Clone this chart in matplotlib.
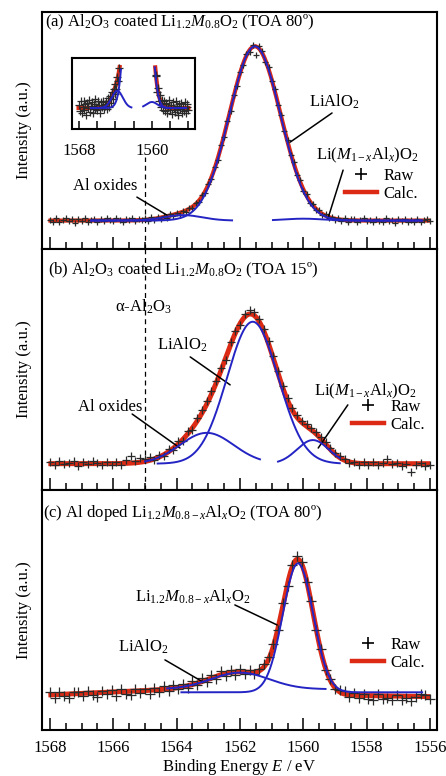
import numpy as np
import matplotlib
matplotlib.use('Agg')  # no display
import matplotlib.pyplot as plt
from matplotlib.lines import Line2D

plt.rcParams['font.family'] = ['Liberation Serif', 'DejaVu Serif']
plt.rcParams['mathtext.fontset'] = 'custom'
plt.rcParams['mathtext.rm'] = 'Liberation Serif'
plt.rcParams['mathtext.it'] = 'Liberation Serif:italic'
plt.rcParams['mathtext.bf'] = 'Liberation Serif:bold'
plt.rcParams['font.size'] = 12

# ---- data ----
# raw XPS points, binding energy runs 1568 -> 1556 eV
energy_a = np.linspace(1568.0, 1556.0, 121)
raw_a = [12.4, 11.6, 12.9, 11.3, 12.2, 13.0, 11.8, 12.5, 11.1, 12.7,
         12.0, 13.1, 11.5, 12.3, 12.8, 11.4, 12.6, 11.9, 13.2, 12.1,
         11.7, 12.9, 12.4, 11.3, 12.8, 12.2, 13.0, 11.9, 12.6, 12.3,
         12.9, 11.9, 13.3, 12.2, 13.6, 12.7, 14.1, 13.2, 14.6, 13.9,
         15.2, 14.5, 16.1, 15.6, 17.3, 17.1, 19.3, 19.8, 22.6, 23.8,
         27.6, 29.7, 34.8, 37.6, 43.7, 47.4, 54.2, 58.1, 65.0, 68.6,
         74.9, 77.5, 82.3, 83.1, 86.0, 82.0, 85.7, 83.4, 78.9, 76.6,
         70.8, 67.4, 60.6, 56.7, 49.8, 46.1, 39.7, 36.7, 31.1, 29.0,
         24.5, 23.2, 19.6, 19.1, 16.3, 16.4, 14.2, 14.7, 12.9, 13.7,
         12.2, 13.1, 11.8, 12.9, 11.6, 12.7, 12.5, 11.4, 12.2, 13.1,
         11.7, 12.4, 11.2, 12.8, 12.0, 11.5, 12.9, 11.8, 12.3, 11.1,
         12.6, 11.9, 12.7, 11.3, 12.2, 11.6, 12.8, 11.4, 12.1, 12.5,
         11.8]

energy_bc = np.linspace(1568.0, 1556.0, 81)
raw_b = [11.6, 10.3, 11.9, 10.6, 11.3, 12.0, 10.1, 11.5, 10.7, 12.1,
         11.0, 10.2, 11.8, 10.5, 11.4, 10.4, 12.6, 13.9, 12.2, 13.4,
         12.9, 13.6, 12.4, 14.6, 14.0, 17.0, 16.6, 20.2, 20.3, 24.5,
         25.0, 30.0, 33.0, 36.9, 41.0, 45.3, 50.6, 54.0, 61.2, 65.9,
         68.3, 73.0, 74.8, 74.0, 70.8, 66.9, 61.6, 55.7, 49.4, 43.3,
         38.0, 33.9, 30.9, 28.6, 27.3, 25.6, 24.2, 21.9, 19.8, 17.5,
         15.4, 13.9, 12.9, 11.1, 11.8, 10.5, 11.4, 10.2, 11.6, 10.4,
         11.2, 12.8, 10.6, 11.3, 10.0, 10.8, 7.4, 10.4, 11.2, 9.8, 10.5]
raw_c = [15.8, 13.4, 15.9, 14.1, 13.2, 16.0, 15.7, 14.0, 16.3, 14.5,
         13.9, 16.4, 15.0, 16.6, 14.3, 16.9, 15.2, 14.6, 17.1, 15.5,
         16.9, 15.0, 17.4, 16.0, 18.3, 16.2, 18.6, 17.0, 19.2, 17.6,
         20.3, 18.6, 21.5, 20.1, 22.9, 21.2, 24.4, 22.5, 25.1, 23.0,
         25.3, 23.4, 25.0, 23.2, 25.6, 27.3, 30.2, 35.9, 41.5, 52.8,
         60.0, 68.8, 72.4, 69.9, 61.5, 53.9, 41.6, 33.8, 25.0, 21.4,
         17.0, 16.8, 16.1, 13.6, 15.5, 13.2, 15.1, 13.0, 12.6, 14.8,
         12.9, 13.5, 12.4, 14.6, 12.7, 13.3, 12.2, 13.8, 15.0, 14.4, 13.1]

# fitted components: centre (eV), height, sigma (eV), plotted span (eV), own baseline
centre_a = [1561.53, 1563.8, 1560.0]          # LiAlO2, Al oxides, Li(M1-xAlx)O2
height_a = [73.5, 2.3, 0.8]
sigma_a = [0.81, 0.6, 0.6]
span_a = [(1566.7, 1556.25), (1566.7, 1562.25), (1560.96, 1556.25)]
base_a = [12.0, 12.0, 12.0]
bg_energy_a = [1568.05, 1556.0]
bg_a = [12.0, 12.0]

centre_b = [1561.6, 1563.05, 1559.7]
height_b = [58.9, 12.8, 9.8]
sigma_b = [0.81, 0.85, 0.5]
span_b = [(1564.6, 1558.85), (1565.0, 1561.37), (1560.8, 1558.85)]
base_b = [10.9, 10.9, 10.9]
bg_energy_b = [1568.05, 1556.0]
bg_b = [10.9, 10.9]

centre_c = [1560.17, 1562.0]                  # Li1.2M0.8-xAlxO2, LiAlO2
height_c = [53.7, 6.9]
sigma_c = [0.48, 0.92]
span_c = [(1563.85, 1556.25), (1564.3, 1559.3)]
base_c = [15.7, 17.0]
bg_energy_c = [1568.05, 1564.3, 1562.5, 1560.2, 1558.8, 1556.0]
bg_c = [14.6, 16.8, 17.5, 16.5, 14.5, 13.9]

alpha_al2o3_energy = 1565.0

RED = '#dc2a14'
BLUE = '#2424c4'
RAW = '#2a2a2a'


def gauss(e, centre, height, sigma):
    return height * np.exp(-(e - centre) ** 2 / (2 * sigma ** 2))


def calc_curve(e, centres, heights, sigmas, bg_e, bg_v):
    y = np.interp(e, bg_e[::-1], bg_v[::-1])
    for c, h, s in zip(centres, heights, sigmas):
        y = y + gauss(e, c, h, s)
    return y


def draw_panel(ax, energy, raw, centres, heights, sigmas, spans, bases, bg_e, bg_v,
               red_lw=3.6, ms=5.5):
    e_fine = np.linspace(1568.05, 1556.0, 800)
    ax.plot(e_fine, calc_curve(e_fine, centres, heights, sigmas, bg_e, bg_v),
            color=RED, lw=red_lw, zorder=2, solid_capstyle='butt')
    ax.plot(energy, raw, ls='none', marker='+', ms=ms, mew=0.9, color=RAW, zorder=3)
    for c, h, s, sp, b in zip(centres, heights, sigmas, spans, bases):
        e = np.linspace(sp[0], sp[1], 400)
        ax.plot(e, b + gauss(e, c, h, s), color=BLUE, lw=1.4, zorder=4)
    ax.set_xlim(1568.26, 1555.79)
    ax.set_ylim(0, 100)
    ax.set_xticks(np.arange(1556, 1569, 2))
    ax.set_xticks(np.arange(1556, 1568.1, 0.5), minor=True)
    ax.tick_params(axis='x', which='major', direction='in', length=9, width=1.1,
                   top=False, labelsize=12, pad=7)
    ax.tick_params(axis='x', which='minor', direction='in', length=5, width=1.1, top=False)
    ax.tick_params(axis='y', left=False, labelleft=False)
    for sp in ax.spines.values():
        sp.set_linewidth(1.5)
    ax.set_ylabel('Intensity (a.u.)', fontsize=12)
    ax.yaxis.set_label_coords(-0.025, 0.5)


def add_legend(ax, x, y):
    handles = [Line2D([], [], ls='none', marker='+', ms=9, mew=1.2, color='k'),
               Line2D([], [], color=RED, lw=3.2)]
    ax.legend(handles, ['Raw', 'Calc.'], loc='upper left', bbox_to_anchor=(x, y),
              frameon=False, borderaxespad=0, borderpad=0, handlelength=1.9,
              handletextpad=0.4, labelspacing=0.1, fontsize=12)


def pointer(ax, start, tip):
    ax.annotate('', xy=tip, xytext=start, xycoords='axes fraction',
                textcoords='axes fraction',
                arrowprops=dict(arrowstyle='-', color='k', lw=1.1, shrinkA=0, shrinkB=0))


fig = plt.figure(figsize=(4.46, 7.76), dpi=100)
left, width = 0.0935, 0.8857
ax_a = fig.add_axes([left, 0.6791, width, 0.3054])
ax_b = fig.add_axes([left, 0.3686, width, 0.3106])
ax_c = fig.add_axes([left, 0.0593, width, 0.3093])

# (a)
draw_panel(ax_a, energy_a, raw_a, centre_a, height_a, sigma_a, span_a, base_a,
           bg_energy_a, bg_a, red_lw=3.0, ms=5)
ax_a.tick_params(axis='x', labelbottom=False)
ax_a.text(0.008, 0.958, r'(a) Al$_2$O$_3$ coated Li$_{1.2}M_{0.8}$O$_2$ (TOA 80º)',
          transform=ax_a.transAxes, ha='left', va='center')
ax_a.text(0.740, 0.620, r'LiAlO$_2$', transform=ax_a.transAxes, ha='center', va='center')
pointer(ax_a, (0.735, 0.574), (0.629, 0.451))
ax_a.text(0.824, 0.397, r'Li($M_{1-x}$Al$_x$)O$_2$', transform=ax_a.transAxes,
          ha='center', va='center')
pointer(ax_a, (0.763, 0.333), (0.725, 0.131))
ax_a.text(0.160, 0.266, 'Al oxides', transform=ax_a.transAxes, ha='center', va='center')
pointer(ax_a, (0.241, 0.219), (0.317, 0.143))
add_legend(ax_a, 0.768, 0.342)
ax_a.axvline(alpha_al2o3_energy, ymin=0, ymax=0.388, color='k', lw=0.9, ls=(0, (4, 3)))

# inset of (a): zoom on the weak components
ins = fig.add_axes([72 / 446, 1 - 129 / 776, 123 / 446, 71 / 776])
e_fine = np.linspace(1568.05, 1556.0, 800)
calc_fine = calc_curve(e_fine, centre_a, height_a, sigma_a, bg_energy_a, bg_a)
clip = 17.5
ins.plot(e_fine, np.where(calc_fine < clip, calc_fine, np.nan), color=RED, lw=3.0, zorder=2)
calc_pts = calc_curve(energy_a, centre_a, height_a, sigma_a, bg_energy_a, bg_a)
raw_arr = np.array(raw_a)
ins.plot(energy_a, np.where(calc_pts < clip, raw_arr, np.nan), ls='none', marker='+',
         ms=5.5, mew=0.9, color=RAW, zorder=3)
for c, h, s, sp, b in zip(centre_a, height_a, sigma_a, span_a, base_a):
    e = np.linspace(sp[0], sp[1], 400)
    y = b + gauss(e, c, h, s)
    ins.plot(e, np.where(y < clip, y, np.nan), color=BLUE, lw=1.4, zorder=4)
ins.set_xlim(1568.77, 1555.27)
ins.set_ylim(9.2, 18.67)
ins.set_xticks(np.arange(1556, 1569, 2))
ins.set_xticklabels(['' if t not in (1568, 1560) else str(t) for t in np.arange(1556, 1569, 2)])
ins.tick_params(axis='x', direction='in', length=6, width=1.1, labelsize=12, pad=10)
ins.tick_params(axis='y', left=False, labelleft=False)
for sp in ins.spines.values():
    sp.set_linewidth(1.5)

# (b)
draw_panel(ax_b, energy_bc, raw_b, centre_b, height_b, sigma_b, span_b, base_b,
           bg_energy_b, bg_b)
ax_b.tick_params(axis='x', labelbottom=False)
ax_b.text(0.016, 0.913, r'(b) Al$_2$O$_3$ coated Li$_{1.2}M_{0.8}$O$_2$ (TOA 15º)',
          transform=ax_b.transAxes, ha='left', va='center')
ax_b.text(0.257, 0.759, r'α-Al$_2$O$_3$', transform=ax_b.transAxes, ha='center', va='center')
ax_b.text(0.355, 0.602, r'LiAlO$_2$', transform=ax_b.transAxes, ha='center', va='center')
pointer(ax_b, (0.376, 0.552), (0.477, 0.436))
ax_b.text(0.173, 0.344, 'Al oxides', transform=ax_b.transAxes, ha='center', va='center')
pointer(ax_b, (0.229, 0.315), (0.350, 0.174))
ax_b.text(0.818, 0.411, r'Li($M_{1-x}$Al$_x$)O$_2$', transform=ax_b.transAxes,
          ha='center', va='center')
pointer(ax_b, (0.775, 0.353), (0.700, 0.174))
add_legend(ax_b, 0.786, 0.378)
ax_b.axvline(alpha_al2o3_energy, color='k', lw=0.9, ls=(0, (4, 3)))

# (c)
draw_panel(ax_c, energy_bc, raw_c, centre_c, height_c, sigma_c, span_c, base_c,
           bg_energy_c, bg_c, ms=6.5)
ax_c.text(0.003, 0.904, r'(c) Al doped Li$_{1.2}M_{0.8-x}$Al$_x$O$_2$ (TOA 80º)',
          transform=ax_c.transAxes, ha='left', va='center')
ax_c.text(0.383, 0.554, r'Li$_{1.2}M_{0.8-x}$Al$_x$O$_2$', transform=ax_c.transAxes,
          ha='center', va='center')
pointer(ax_c, (0.489, 0.521), (0.596, 0.4375))
ax_c.text(0.257, 0.346, r'LiAlO$_2$', transform=ax_c.transAxes, ha='center', va='center')
pointer(ax_c, (0.312, 0.292), (0.408, 0.200))
add_legend(ax_c, 0.786, 0.3875)
ax_c.set_xlabel(r'Binding Energy $E$ / eV', fontsize=12, labelpad=1)

fig.savefig('out.png', dpi=100)
